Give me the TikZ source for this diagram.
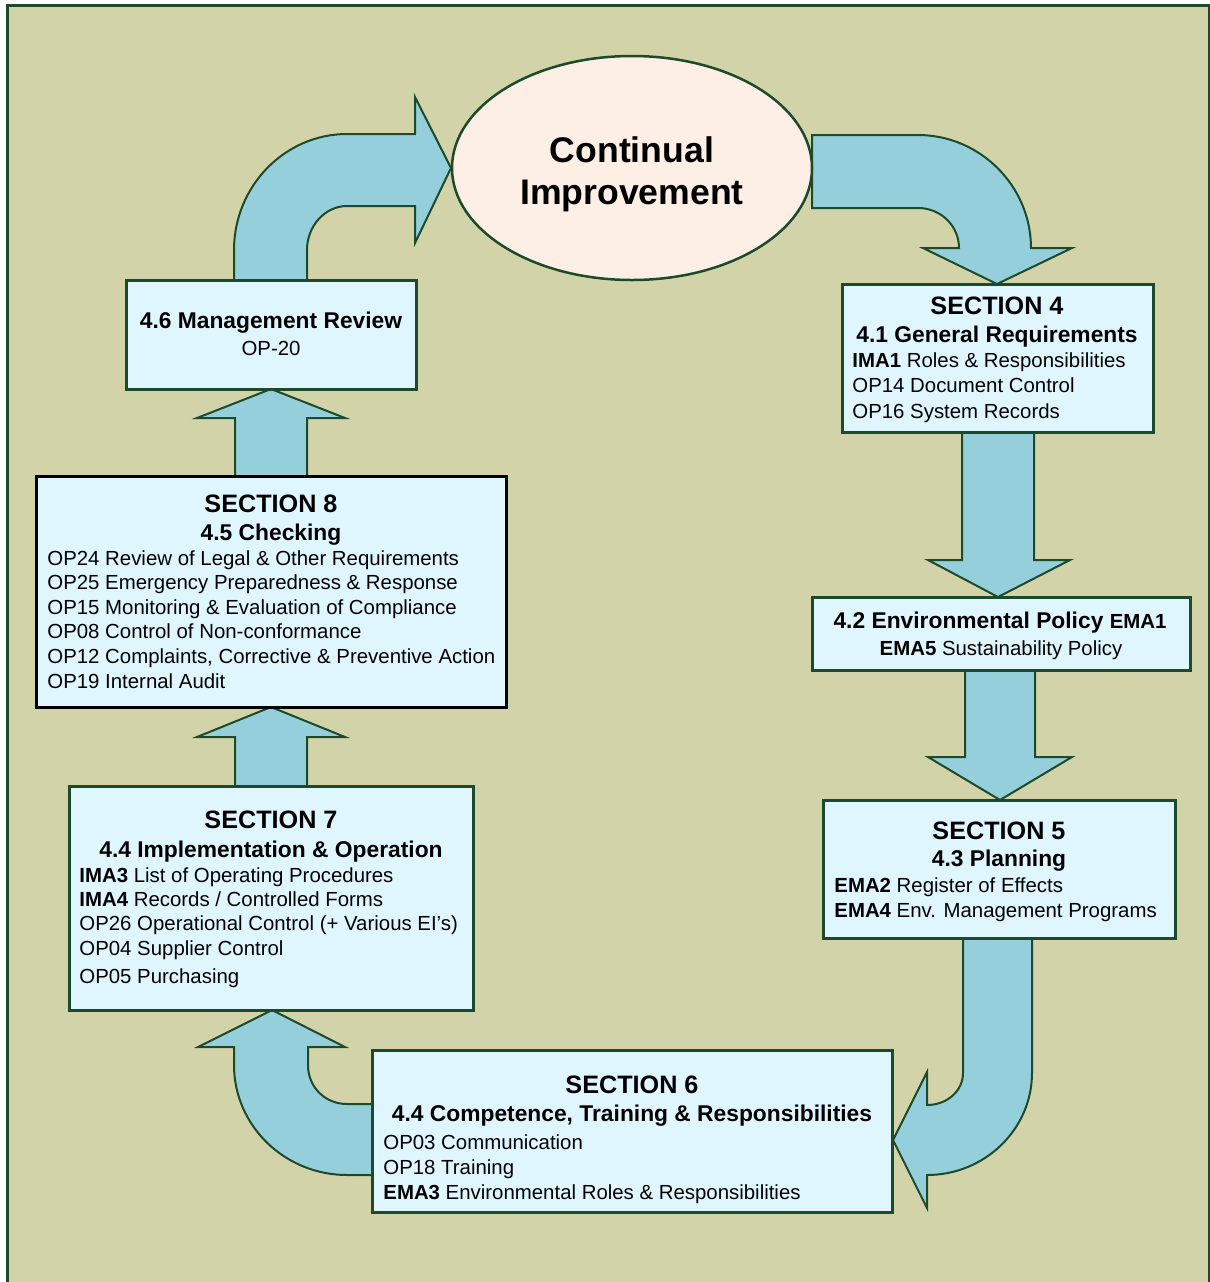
\documentclass[tikz,border=0pt]{standalone}
\usepackage{fontspec}
\setmainfont{Liberation Sans}
\usetikzlibrary{shapes.geometric}
\definecolor{olive}{RGB}{211,211,170}
\definecolor{dgreen}{RGB}{28,74,42}
\definecolor{boxfill}{RGB}{224,246,255}
\definecolor{arrowfill}{RGB}{150,207,220}
\definecolor{ellfill}{RGB}{253,239,229}
\begin{document}
\begin{tikzpicture}[x=0.5pt,y=-0.5pt,
  box/.style={draw=dgreen, line width=1.5pt, fill=boxfill, rectangle, inner sep=0pt},
  blk/.style={draw=dgreen, line width=1pt, fill=arrowfill, line join=miter},
  ln/.style={inner sep=0pt, text depth=0pt},
  txt/.style={ln, anchor=west, text height=7.3pt, font=\fontsize{10.2}{12}\selectfont},
  ctxt/.style={ln, text height=7.3pt, font=\fontsize{10.2}{12}\selectfont},
  hd/.style={ln, text height=9pt, font=\fontsize{12.6}{15}\selectfont\bfseries},
  sub/.style={ln, text height=8.16pt, font=\fontsize{11.4}{13}\selectfont\bfseries}]
\useasboundingbox (0,0) rectangle (1210,1282);
% frame and background
\fill[white] (0,0) rectangle (1210,1282);
\fill[olive] (7,5) rectangle (1209,1282);
\draw[dgreen, line width=1.5pt] (7,1282) -- (7,5) -- (1209,5) -- (1209,1282);

% straight block arrows
\draw[blk] (235,476) -- (235,418) -- (197,418) -- (271,389) -- (345,418) -- (307,418) -- (307,476) -- cycle;
\draw[blk] (235,786) -- (235,737) -- (197,737) -- (271,707) -- (345,737) -- (307,737) -- (307,786) -- cycle;
\draw[blk] (962,432) -- (962,560) -- (928,560) -- (998,597) -- (1070,560) -- (1034,560) -- (1034,432) -- cycle;
\draw[blk] (965,670) -- (965,757) -- (928,757) -- (1000,800) -- (1072,757) -- (1035,757) -- (1035,670) -- cycle;

% curved block arrows
\draw[blk] (234,280) -- (234,250) .. controls (234,186) and (285,134) .. (347,134) -- (415,134) -- (415,97) -- (451,168) -- (415,243) -- (415,206) -- (347,206) .. controls (325,206) and (307,226) .. (307,250) -- (307,280) -- cycle;
\draw[blk] (812,135) -- (918,135) .. controls (980,135) and (1031,186) .. (1031,248) -- (1072,248) -- (997,284) -- (923,248) -- (959,248) .. controls (959,226) and (941,208) .. (918,208) -- (812,208) -- cycle;
\draw[blk] (1032,938) -- (1032,1073) .. controls (1032,1129) and (985,1175) .. (927,1175) -- (927,1208) -- (893,1140) -- (927,1072) -- (927,1105) .. controls (947,1105) and (963,1091) .. (963,1073) -- (963,938) -- cycle;
\draw[blk] (380,1175) -- (347,1175) .. controls (285,1175) and (234,1126) .. (234,1065) -- (234,1047) -- (198,1047) -- (272,1010) -- (345,1047) -- (308,1047) -- (308,1065) .. controls (308,1087) and (325,1104) .. (347,1104) -- (380,1104) -- cycle;

% ellipse
\node[ellipse, draw=dgreen, line width=1.25pt, fill=ellfill, minimum width=180pt, minimum height=112pt, inner sep=0pt] (ci) at (632,168) {};
\node[ln, align=center, font=\fontsize{17.8}{21}\selectfont\bfseries] (cit) at (632,171) {Continual\\Improvement};

% boxes
\node[box, minimum width=145pt, minimum height=54.5pt] (b46) at (271,334.5) {};
\node[box, minimum width=155.5pt, minimum height=74pt] (s4) at (997.5,358) {};
\node[box, minimum width=189pt, minimum height=36.5pt] (p42) at (1001,633.5) {};
\node[box, minimum width=176pt, minimum height=69pt] (s5) at (999,869) {};
\node[box, minimum width=260pt, minimum height=81pt] (s6) at (632,1131) {};
\node[box, minimum width=202pt, minimum height=112pt] (s7) at (271,898) {};
\node[box, draw=black, minimum width=235pt, minimum height=115.5pt] (s8) at (271,591.5) {};

% 4.6
\node[sub] (t46a) at (271,320) {4.6 Management Review};
\node[ctxt] (t46b) at (271,348) {OP-20};

% Section 4
\node[hd] (t4a) at (997,305) {SECTION 4};
\node[sub] (t4b) at (997,334) {4.1 General Requirements};
\node[txt] (t4c) at (852,360) {\textbf{IMA1} Roles \& Responsibilities};
\node[txt] (t4d) at (852,385) {OP14 Document Control};
\node[txt] (t4e) at (852,411) {OP16 System Records};

% 4.2
\node[sub] (t42a) at (1000,620) {4.2 Environmental Policy {\fontsize{10.2}{12}\selectfont EMA1}};
\node[ctxt] (t42b) at (1001,648) {\textbf{EMA5} Sustainability Policy};

% Section 5
\node[hd] (t5a) at (999,830) {SECTION 5};
\node[sub] (t5b) at (999,858) {4.3 Planning};
\node[txt] (t5c) at (834,885) {\textbf{EMA2} Register of Effects};
\node[txt] (t5d) at (834,910) {\textbf{EMA4} Env. Management Programs};

% Section 6
\node[hd] (t6a) at (632,1084) {SECTION 6};
\node[sub] (t6b) at (632,1113) {4.4 Competence, Training \& Responsibilities};
\node[txt] (t6c) at (383,1142) {OP03 Communication};
\node[txt] (t6d) at (383,1167) {OP18 Training};
\node[txt] (t6e) at (383,1192) {\textbf{EMA3} Environmental Roles \& Responsibilities};

% Section 7
\node[hd] (t7a) at (271,819) {SECTION 7};
\node[sub] (t7b) at (271,849) {4.4 Implementation \& Operation};
\node[txt] (t7c) at (79,875) {\textbf{IMA3} List of Operating Procedures};
\node[txt] (t7d) at (79,899) {\textbf{IMA4} Records / Controlled Forms};
\node[txt] (t7e) at (79,923) {OP26 Operational Control (+ Various EI’s)};
\node[txt] (t7f) at (79,948) {OP04 Supplier Control};
\node[txt] (t7g) at (79,976) {OP05 Purchasing};

% Section 8
\node[hd] (t8a) at (271,503) {SECTION 8};
\node[sub] (t8b) at (271,532) {4.5 Checking};
\node[txt] (t8c) at (47,558) {OP24 Review of Legal \& Other Requirements};
\node[txt] (t8d) at (47,582) {OP25 Emergency Preparedness \& Response};
\node[txt] (t8e) at (47,607) {OP15 Monitoring \& Evaluation of Compliance};
\node[txt] (t8f) at (47,631) {OP08 Control of Non-conformance};
\node[txt] (t8g) at (47,656) {OP12 Complaints, Corrective \& Preventive Action};
\node[txt] (t8h) at (47,681) {OP19 Internal Audit};
\end{tikzpicture}
\end{document}
